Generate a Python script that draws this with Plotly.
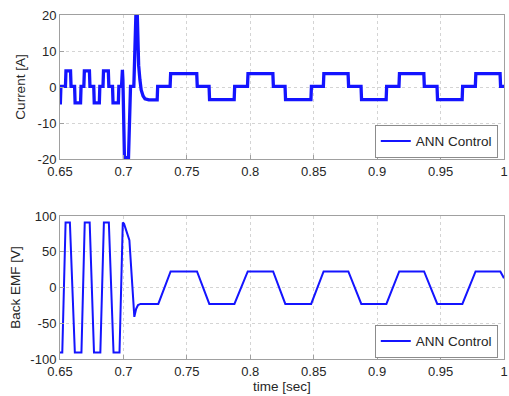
import plotly.graph_objects as go

# ---------------- data ----------------
current_t = [
    0.6500, 0.6503, 0.6507, 0.6543, 0.6547, 0.6583, 0.6587, 0.6615, 0.6619, 0.6662,
    0.6666, 0.6688, 0.6692, 0.6732, 0.6736, 0.6766, 0.6770, 0.6810, 0.6814, 0.6839,
    0.6843, 0.6881, 0.6885, 0.6914, 0.6918, 0.6960, 0.6964, 0.6985, 0.6992, 0.6996,
    0.7008, 0.7040, 0.7056, 0.7082, 0.7104, 0.7112, 0.7120, 0.7130, 0.7140, 0.7155,
    0.7170, 0.7200, 0.7266, 0.7270, 0.7368, 0.7372, 0.7578, 0.7582, 0.7675, 0.7679,
    0.7873, 0.7877, 0.7978, 0.7982, 0.8178, 0.8182, 0.8274, 0.8278, 0.8478, 0.8482,
    0.8576, 0.8580, 0.8771, 0.8775, 0.8873, 0.8877, 0.9071, 0.9075, 0.9172, 0.9176,
    0.9368, 0.9372, 0.9472, 0.9476, 0.9670, 0.9674, 0.9774, 0.9778, 0.9969, 0.9973,
    1.0000,
]
current_a = [
    -4.4, -4.4, 0.2, 0.2, 4.5, 4.5, 0.2, 0.2, -4.4, -4.4,
    0.2, 0.2, 4.5, 4.5, 0.2, 0.2, -4.4, -4.4, 0.2, 0.2,
    4.5, 4.5, 0.2, 0.2, -4.4, -4.4, 0.2, 0.2, 4.8, 2.0,
    -19.6, -19.6, 0.2, 0.2, 27.0, 12.0, 6.0, 2.0, -0.8, -2.5,
    -3.3, -3.6, -3.6, 0.2, 0.2, 3.7, 3.7, 0.2, 0.2, -3.5,
    -3.5, 0.2, 0.2, 3.7, 3.7, 0.2, 0.2, -3.5, -3.5, 0.2,
    0.2, 3.7, 3.7, 0.2, 0.2, -3.5, -3.5, 0.2, 0.2, 3.7,
    3.7, 0.2, 0.2, -3.5, -3.5, 0.2, 0.2, 3.7, 3.7, 0.2,
    0.2,
]

emf_t = [
    0.6500, 0.6518, 0.6544, 0.6578, 0.6617, 0.6669, 0.6695, 0.6734, 0.6768, 0.6818,
    0.6846, 0.6885, 0.6922, 0.6969, 0.6995, 0.7005, 0.7047, 0.7086, 0.7100, 0.7115,
    0.7135, 0.7275, 0.7372, 0.7580, 0.7677, 0.7875, 0.7980, 0.8180, 0.8276, 0.8480,
    0.8578, 0.8773, 0.8875, 0.9073, 0.9174, 0.9370, 0.9474, 0.9672, 0.9776, 0.9971,
    1.0000,
]
emf_v = [
    -91, -91, 91, 91, -91, -91, 91, 91, -91, -91,
    91, 91, -91, -91, 91, 89, 66, -41, -30, -24.5,
    -23, -23, 22.5, 22.5, -23, -23, 22.5, 22.5, -23, -23,
    22.5, 22.5, -23, -23, 22.5, 22.5, -23, -23, 22.5, 22.5,
    13,
]

x_ticks = [0.65, 0.7, 0.75, 0.8, 0.85, 0.9, 0.95, 1.0]
x_tick_text = ["0.65", "0.7", "0.75", "0.8", "0.85", "0.9", "0.95", "1"]
cur_ticks = [-20, -10, 0, 10, 20]
cur_tick_text = ["-20", "-10", "0", "10", "20"]
emf_ticks = [-100, -50, 0, 50, 100]
emf_tick_text = ["-100", "-50", "0", "50", "100"]

series_name = "ANN Control"
line_color = "#1414ff"
FONT = "Liberation Sans, Arial, sans-serif"

fig = go.Figure()
# current trace (thick to mimic the PWM ripple band); legend entry drawn by a thin proxy
fig.add_trace(go.Scatter(
    x=current_t, y=current_a, mode="lines", name=series_name,
    line=dict(color=line_color, width=3.3), xaxis="x", yaxis="y",
    showlegend=False,
))
fig.add_trace(go.Scatter(
    x=[None], y=[None], mode="lines", name=series_name,
    line=dict(color=line_color, width=2), xaxis="x", yaxis="y",
    legend="legend", showlegend=True,
))
fig.add_trace(go.Scatter(
    x=emf_t, y=emf_v, mode="lines", name=series_name,
    line=dict(color=line_color, width=2), xaxis="x2", yaxis="y2",
    legend="legend2", showlegend=True,
))

axis_common = dict(
    showline=True, mirror=True, linecolor="#a0a0a0", linewidth=1,
    ticks="inside", ticklen=4, tickcolor="#a0a0a0",
    showgrid=True, gridcolor="#d4d4d4", griddash="dot", gridwidth=1,
    zeroline=False, automargin=False, ticklabeloverflow="allow",
    tickfont=dict(family=FONT, size=13, color="#262626"),
)

legend_common = dict(
    xanchor="right", yanchor="bottom",
    bgcolor="white", bordercolor="#8c8c8c", borderwidth=1,
    font=dict(family=FONT, size=13.5, color="#262626"),
    itemwidth=30, tracegroupgap=0,
)

title_font = dict(family=FONT, size=13.5, color="#262626")

fig.update_layout(
    width=509, height=396,
    margin=dict(l=60, r=5, t=15, b=37),
    paper_bgcolor="white", plot_bgcolor="white",
    font=dict(family=FONT, size=13, color="#262626"),
    showlegend=True,
    xaxis=dict(domain=[0, 1], range=[0.65, 1.0], anchor="y",
               tickvals=x_ticks, ticktext=x_tick_text, **axis_common),
    yaxis=dict(domain=[0.5814, 1], range=[-20, 20], anchor="x",
               tickvals=cur_ticks, ticktext=cur_tick_text,
               title=dict(text="Current [A]", font=title_font, standoff=8),
               **axis_common),
    xaxis2=dict(domain=[0, 1], range=[0.65, 1.0], anchor="y2",
                tickvals=x_ticks, ticktext=x_tick_text,
                title=dict(text="time [sec]", font=title_font, standoff=3),
                **axis_common),
    yaxis2=dict(domain=[0, 0.4157], range=[-100, 100], anchor="x2",
                tickvals=emf_ticks, ticktext=emf_tick_text,
                title=dict(text="Back EMF [V]", font=title_font, standoff=6),
                **axis_common),
    legend=dict(x=0.986, y=0.585, **legend_common),
    legend2=dict(x=0.986, y=0.004, **legend_common),
)

fig.write_html("out.html")
